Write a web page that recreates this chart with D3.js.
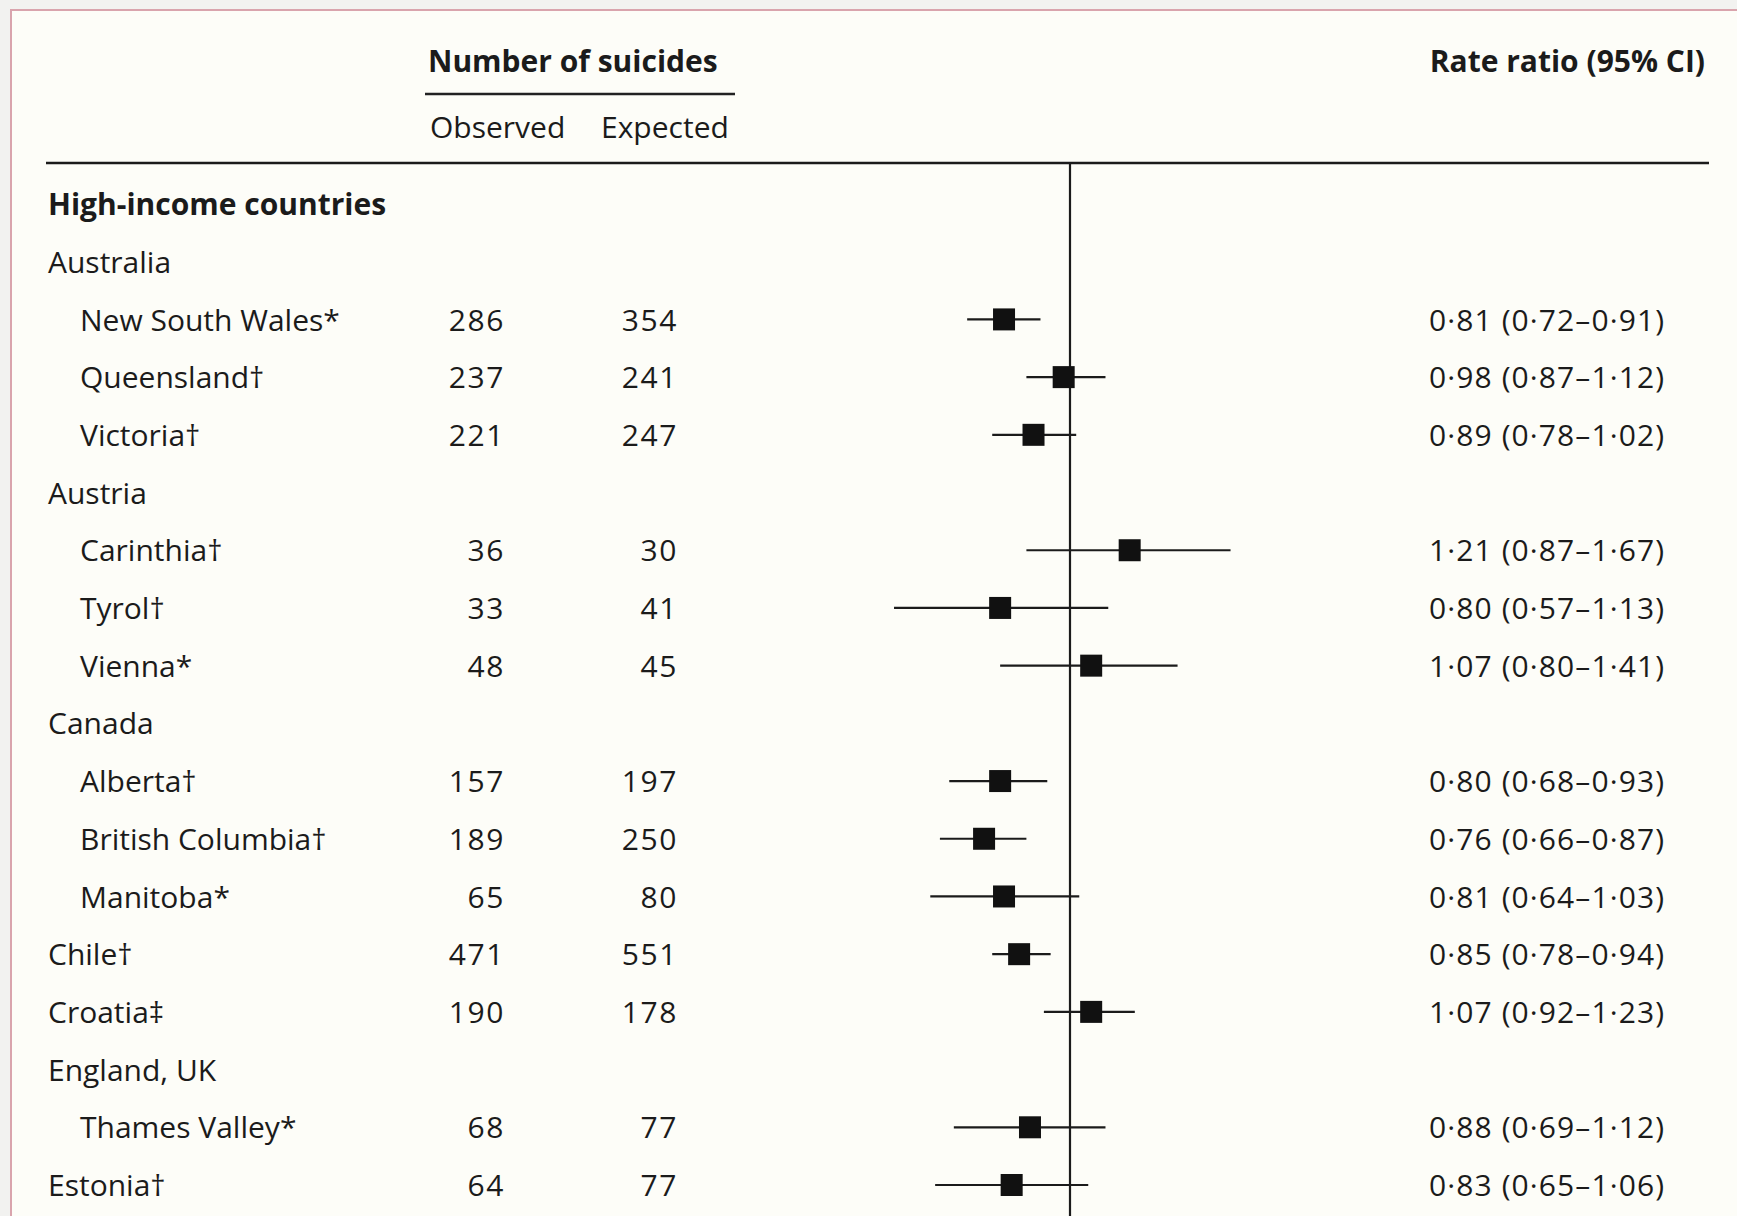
<!DOCTYPE html>
<html>
<head>
<meta charset="utf-8">
<script src="https://cdn.jsdelivr.net/npm/d3@7"></script>
<style>
  body { margin: 0; background: #f2f2f0; }
  text { font-family: "Open Sans", "Noto Sans", sans-serif; fill: #1b1b1b; }
  .bold { font-weight: 700; }
  .num { letter-spacing: 1.6px; }
</style>
</head>
<body>
<div id="vis"></div>
<script>
// rows of the table (indent 0 = header/country, 1 = region)
var labels = ["High-income countries", "Australia", "New South Wales*", "Queensland†", "Victoria†",
    "Austria", "Carinthia†", "Tyrol†", "Vienna*", "Canada", "Alberta†", "British Columbia†",
    "Manitoba*", "Chile†", "Croatia‡", "England, UK", "Thames Valley*", "Estonia†"];
var indent = [0, 0, 1, 1, 1, 0, 1, 1, 1, 0, 1, 1, 1, 0, 0, 0, 1, 0];
var bold = [true, false, false, false, false, false, false, false, false, false, false, false, false, false, false, false, false, false];
var observed = [null, null, 286, 237, 221, null, 36, 33, 48, null, 157, 189, 65, 471, 190, null, 68, 64];
var expected = [null, null, 354, 241, 247, null, 30, 41, 45, null, 197, 250, 80, 551, 178, null, 77, 77];
var ratio = [null, null, 0.81, 0.98, 0.89, null, 1.21, 0.80, 1.07, null, 0.80, 0.76, 0.81, 0.85, 1.07, null, 0.88, 0.83];
var ciLow = [null, null, 0.72, 0.87, 0.78, null, 0.87, 0.57, 0.80, null, 0.68, 0.66, 0.64, 0.78, 0.92, null, 0.69, 0.65];
var ciHigh = [null, null, 0.91, 1.12, 1.02, null, 1.67, 1.13, 1.41, null, 0.93, 0.87, 1.03, 0.94, 1.23, null, 1.12, 1.06];

var width = 1737;
var height = 1216;
var FONT = 30;
var BOX = 22;

var rows = labels.map(function(d, i) {
    return { label: d, indent: indent[i], bold: bold[i], obs: observed[i], exp: expected[i],
             rr: ratio[i], lo: ciLow[i], hi: ciHigh[i], i: i };
});

var svg = d3.select("#vis")
            .append("svg")
            .attr("width", width)
            .attr("height", height);

// page background with the cropped frame (left + top edges)
svg.append("rect")
    .attr("x", 0).attr("y", 0)
    .attr("width", width).attr("height", height)
    .style("fill", "#f2f2f0");
svg.append("rect")
    .attr("x", 11).attr("y", 10)
    .attr("width", width + 20).attr("height", height + 20)
    .style("fill", "#fdfdf8")
    .style("stroke", "#d9a4ad")
    .style("stroke-width", 2);

// scales
var x = d3.scaleLog().domain([0.5, 2]).range([853, 1287]);
var y = d3.scaleLinear().domain([0, 17]).range([204, 1185]);

var fmt = function(v) { return d3.format(".2f")(v).replace(".", "·"); };

// column headers
svg.append("text").attr("class", "bold")
    .attr("x", 428).attr("y", 72)
    .style("font-size", FONT + "px")
    .text("Number of suicides");
svg.append("line")
    .attr("x1", 425).attr("x2", 735)
    .attr("y1", 94).attr("y2", 94)
    .style("stroke", "#222").style("stroke-width", 2.5);
svg.append("text")
    .attr("x", 430).attr("y", 138)
    .style("font-size", FONT + "px")
    .text("Observed");
svg.append("text")
    .attr("x", 601).attr("y", 138)
    .style("font-size", FONT + "px")
    .text("Expected");
svg.append("text").attr("class", "bold")
    .attr("x", 1705).attr("y", 72)
    .attr("text-anchor", "end")
    .style("font-size", FONT + "px")
    .text("Rate ratio (95% CI)");

// rule under header and the line of no effect
svg.append("line")
    .attr("x1", 46).attr("x2", 1709)
    .attr("y1", 163).attr("y2", 163)
    .style("stroke", "#1b1b1b").style("stroke-width", 2.5);
svg.append("line")
    .attr("x1", x(1)).attr("x2", x(1))
    .attr("y1", 163).attr("y2", height)
    .style("stroke", "#1b1b1b").style("stroke-width", 2.2);

var g = svg.selectAll(".row")
    .data(rows)
    .enter().append("g")
    .attr("class", "row")
    .attr("transform", function(d) { return "translate(0," + y(d.i) + ")"; });

g.append("text")
    .attr("class", function(d) { return d.bold ? "bold" : null; })
    .attr("x", function(d) { return d.indent ? 80 : 48; })
    .attr("dy", "0.37em")
    .style("font-size", FONT + "px")
    .text(function(d) { return d.label; });

var data = g.filter(function(d) { return d.rr != null; });

data.append("text").attr("class", "num")
    .attr("x", 505).attr("dy", "0.37em")
    .attr("text-anchor", "end")
    .style("font-size", FONT + "px")
    .text(function(d) { return d.obs; });
data.append("text").attr("class", "num")
    .attr("x", 678).attr("dy", "0.37em")
    .attr("text-anchor", "end")
    .style("font-size", FONT + "px")
    .text(function(d) { return d.exp; });
data.append("text")
    .attr("x", 1429).attr("dy", "0.37em")
    .style("font-size", FONT + "px")
    .style("letter-spacing", "1.1px")
    .text(function(d) { return fmt(d.rr) + " (" + fmt(d.lo) + "–" + fmt(d.hi) + ")"; });

// confidence intervals and point estimates
data.append("line")
    .attr("x1", function(d) { return x(d.lo); })
    .attr("x2", function(d) { return x(d.hi); })
    .attr("y1", 0).attr("y2", 0)
    .style("stroke", "#1b1b1b").style("stroke-width", 2.2);
data.append("rect")
    .attr("x", function(d) { return x(d.rr) - BOX / 2; })
    .attr("y", -BOX / 2)
    .attr("width", BOX).attr("height", BOX)
    .style("fill", "#111");
</script>
</body>
</html>
